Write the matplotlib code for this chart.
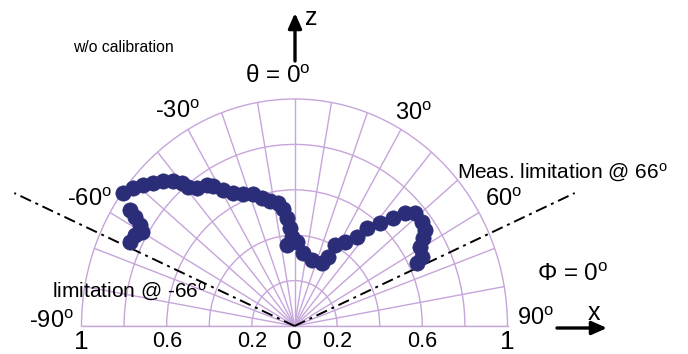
import numpy as np
import matplotlib
matplotlib.use("Agg")
import matplotlib.pyplot as plt
from matplotlib.patches import FancyArrowPatch

plt.rcParams['font.family'] = ['Liberation Sans', 'DejaVu Sans']
plt.rcParams['mathtext.fontset'] = 'custom'
plt.rcParams['mathtext.rm'] = 'Liberation Sans'
plt.rcParams['mathtext.it'] = 'Liberation Sans'

# ---- data (angle in degrees, normalised radius) ----
theta_deg = [-64.4, -61.8, -60.0, -58.5, -57.3, -56.5, -54.0, -51.3, -48.9, -46.5,
             -44.0, -41.8, -40.0, -39.2, -37.0, -33.5, -31.8, -29.3, -26.2, -22.6,
             -18.5, -15.1, -11.8, -8.1, -6.0, -4.2, -2.8, -1.7, -5.6, 1.8,
             7.1, 15.8, 24.9, 27.4, 28.0, 32.6, 36.8, 38.3, 41.5, 44.2,
             46.2, 48.7, 52.6, 55.4, 57.3, 59.4, 63.1, 64.2]
r_vals = [0.856, 0.849, 0.827, 0.851, 0.890, 0.926, 0.996, 0.972, 0.944, 0.916,
          0.888, 0.856, 0.822, 0.791, 0.761, 0.745, 0.726, 0.687, 0.653, 0.630,
          0.613, 0.584, 0.563, 0.547, 0.518, 0.477, 0.432, 0.392, 0.359, 0.370,
          0.324, 0.302, 0.306, 0.342, 0.404, 0.440, 0.490, 0.550, 0.606, 0.664,
          0.719, 0.754, 0.754, 0.745, 0.717, 0.684, 0.671, 0.639]
limit_angles = [-66, 66]
theta_label_angles = [-90, -60, -30, 30, 60, 90]
radial_tick_labels = ["1", "0.6", "0.2"]
radial_tick_r = [1.0, 0.6, 0.2]

GRID = '#c6a5da'
MARK = '#2b2d78'

W, H = 688, 354
fig = plt.figure(figsize=(W / 100, H / 100), dpi=100)

# centre at (294.5, 326) px from top, Rx=213, Ry=227
cx, cy_top, Rx, Ry = 294.5, 326, 213, 227
ax_h = 2 * Ry
ax_bottom = (H - cy_top) - 0.25 * ax_h
ax = fig.add_axes([(cx - Rx) / W, ax_bottom / H, 2 * Rx / W, ax_h / H],
                  projection='polar')
ax.set_theta_zero_location('N')
ax.set_theta_direction(-1)
ax.set_thetamin(-90)
ax.set_thetamax(90)
ax.set_rlim(0, 1)
ax.set_aspect('auto')

ax.set_thetagrids(np.arange(-90, 91, 10), labels=[''] * 19)
ax.set_rgrids([0.2, 0.4, 0.6, 0.8], labels=[''] * 4)
ax.grid(True, color=GRID, lw=1.0)
for s in ax.spines.values():
    s.set_color(GRID)
    s.set_linewidth(1.0)
ax.tick_params(length=0)

# data
ax.plot(np.deg2rad(theta_deg), r_vals, 'o', color=MARK, ms=11, mec=MARK,
        mew=0.5, zorder=5, clip_on=False)

# measurement limitation lines
for a in limit_angles:
    ax.plot([np.deg2rad(a)] * 2, [0, 1.44], color='black', lw=1.4,
            dashes=(6, 2.5, 1.5, 2.5), clip_on=False, zorder=4)

deg = r'$^{\mathrm{o}}$'
# angle labels
lab_pos = {-90: (1.14, -89), -60: (1.11, -60), -30: (1.09, -30.3),
           30: (1.09, 30.9), 60: (1.13, 60.5), 90: (1.13, 88.5)}
for a in theta_label_angles:
    rr, tt = lab_pos[a]
    ax.text(np.deg2rad(tt), rr, f"{a}" + deg, fontsize=17, ha='center',
            va='center', clip_on=False)
ax.text(np.deg2rad(-4.0), 1.10, r"θ = 0" + deg, fontsize=17.5, ha='center',
        va='center', clip_on=False)

# radial tick labels along baseline
for lab, rr in zip(radial_tick_labels, radial_tick_r):
    big = lab == "1"
    for side in (-90, 90):
        ax.annotate(lab, (np.deg2rad(side), rr), xytext=(0, -3 if big else -3.5),
                    textcoords='offset points', ha='center', va='top',
                    fontsize=19 if big else 15.5, annotation_clip=False)
ax.annotate("0", (0, 0), xytext=(0, -3), textcoords='offset points',
            ha='center', va='top', fontsize=19, annotation_clip=False)

# annotations in figure pixels
def fp(x, y_top):
    return (x, H - y_top)

fig.text(73 / W, 1 - 47 / H, "w/o calibration", fontsize=11.3, ha='left',
         va='center')
fig.text(457 / W, 1 - 173 / H, "Meas. limitation @ 66" + deg, fontsize=15,
         ha='left', va='center')
fig.text(52 / W, 1 - 292 / H, "limitation @ -66" + deg, fontsize=15,
         ha='left', va='center')
fig.text(573 / W, 1 - 275 / H, "Φ = 0" + deg, fontsize=17.5, ha='center',
         va='center')
fig.text(311 / W, 1 - 18 / H, "z", fontsize=18, ha='center', va='center')
fig.text(594 / W, 1 - 313 / H, "x", fontsize=18, ha='center', va='center')

arrow = dict(arrowstyle='-|>,head_length=0.45,head_width=0.2', lw=2.4,
             color='black', shrinkA=0, shrinkB=0, mutation_scale=20)
fig.add_artist(FancyArrowPatch(fp(295, 61), fp(295, 13), transform=None,
                               **arrow))
fig.add_artist(FancyArrowPatch(fp(557, 328), fp(607, 328), transform=None,
                               **arrow))

fig.savefig("out.png", dpi=100)
